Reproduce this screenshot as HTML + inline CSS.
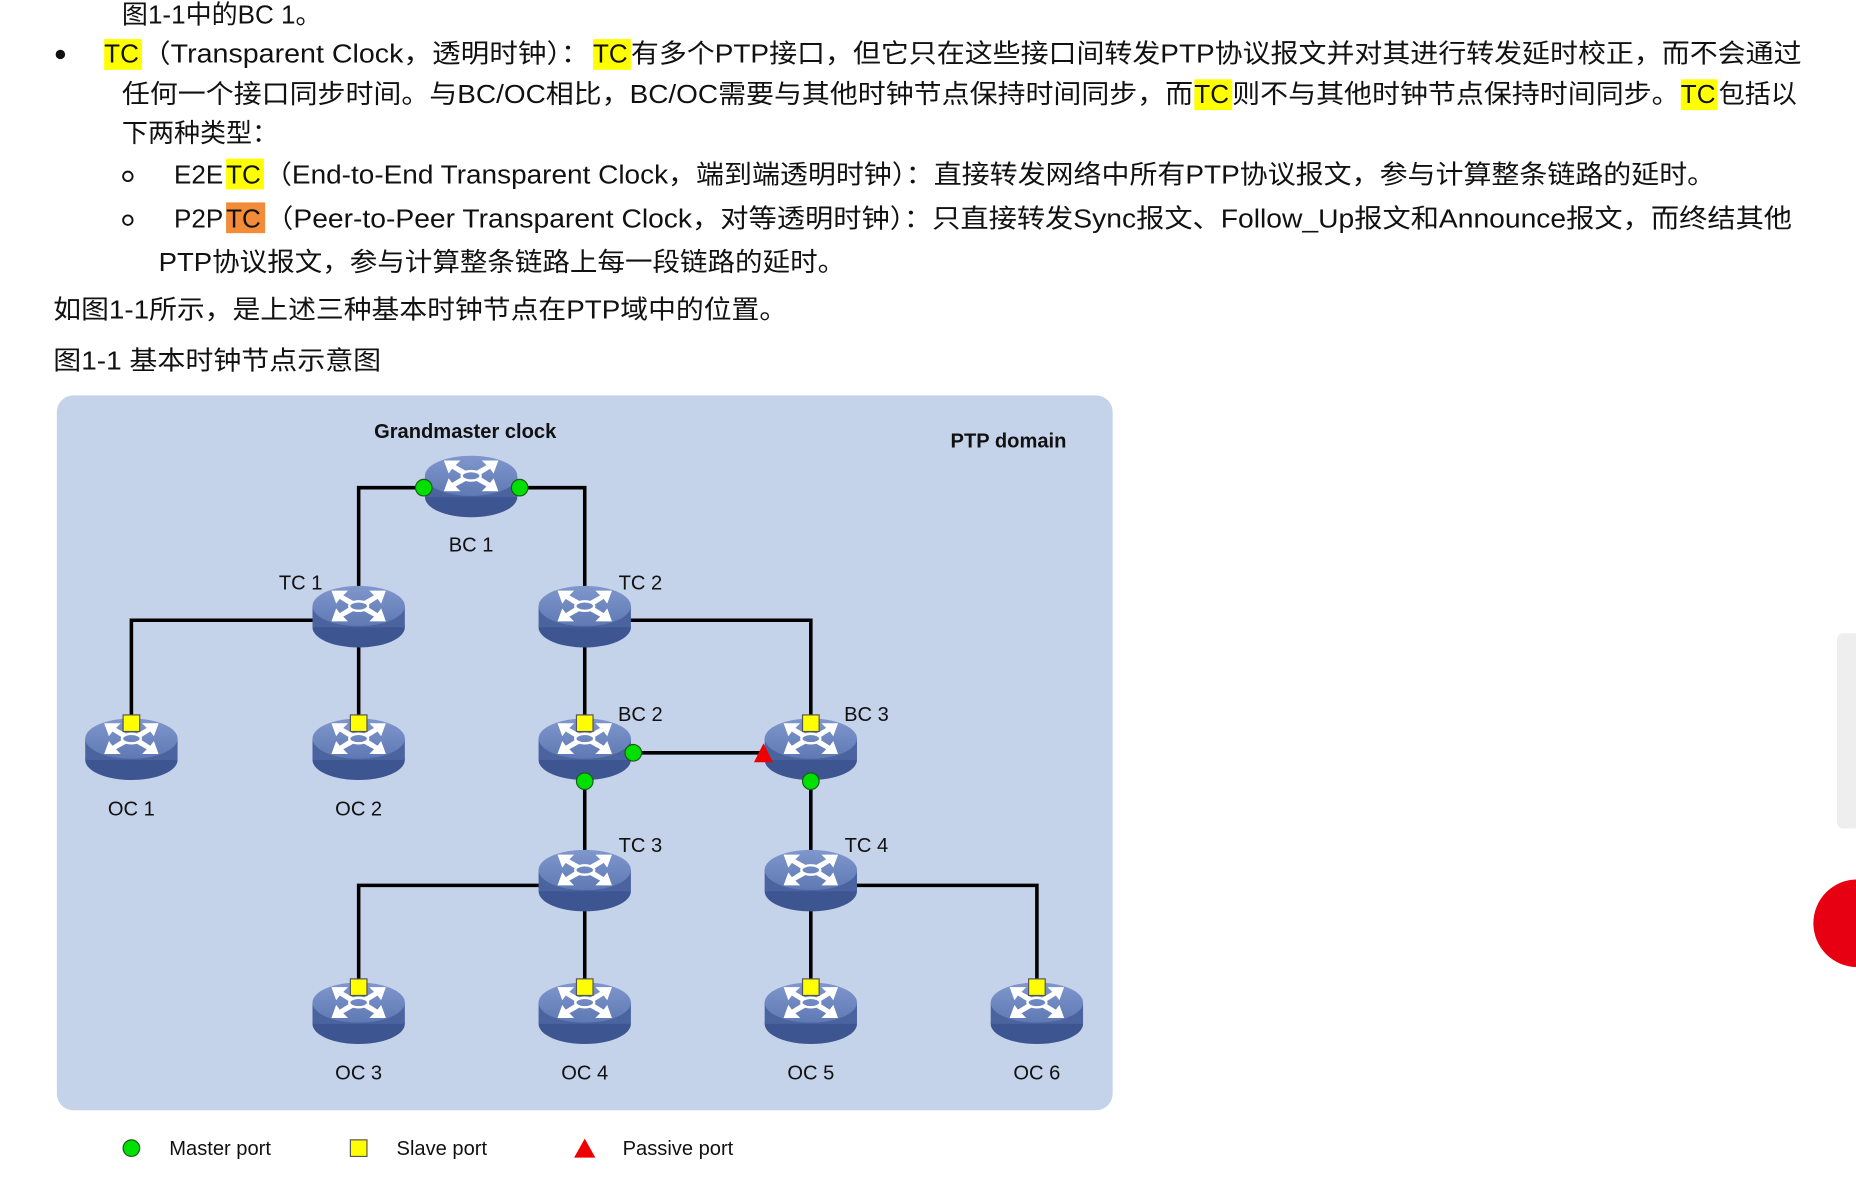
<!DOCTYPE html>
<html><head><meta charset="utf-8">
<style>
html,body{margin:0;padding:0;background:#fff;width:1856px;height:1182px;overflow:hidden}
svg{display:block}
.t{font-family:"Liberation Sans","Noto Sans CJK SC",sans-serif;font-size:22px;fill:#111}
.d{font-family:"Liberation Sans","Noto Sans CJK SC",sans-serif;font-size:17px;fill:#111}
.b{font-weight:bold}
</style></head><body>
<svg width="1856" height="1182" viewBox="0 0 1568 998.6" xmlns="http://www.w3.org/2000/svg">
<defs>
<linearGradient id="tg" x1="0" y1="0" x2="0" y2="1"><stop offset="0" stop-color="#7f97cc"/><stop offset="1" stop-color="#5f79b4"/></linearGradient>
<g id="r">
<ellipse cx="0" cy="10" rx="39" ry="17" fill="#3d5591"/>
<rect x="-39" y="-8" width="78" height="18" fill="#4b64a0"/>
<ellipse cx="0" cy="-8" rx="39" ry="17" fill="url(#tg)"/>
<g fill="#fff">
<polygon points="-23,-21 -9,-21 -13,-17 -4,-12 -8,-9 -16,-14 -19,-10"/>
<polygon points="23,-21 9,-21 13,-17 4,-12 8,-9 16,-14 19,-10"/>
<polygon points="-23,5 -9,5 -13,1 -4,-4 -8,-7 -16,-2 -19,-6"/>
<polygon points="23,5 9,5 13,1 4,-4 8,-7 16,-2 19,-6"/>
<ellipse cx="0" cy="-8" rx="8" ry="4" fill="none" stroke="#fff" stroke-width="2"/>
</g>
</g>
</defs>
<!-- text -->
<text class="t" x="103" y="20">图1-1中的BC 1。</text>
<circle cx="51" cy="46" r="4" fill="#111"/>
<rect x="88" y="33" width="32" height="26" fill="#ffff00"/>
<rect x="501" y="33" width="32" height="26" fill="#ffff00"/>
<text class="t" x="88" y="53">TC</text>
<text class="t" x="120" y="53" textLength="378" lengthAdjust="spacingAndGlyphs">（Transparent Clock，透明时钟）：</text>
<text class="t" x="501" y="53">TC</text>
<text class="t" x="533" y="53" textLength="989" lengthAdjust="spacingAndGlyphs">有多个PTP接口，但它只在这些接口间转发PTP协议报文并对其进行转发延时校正，而不会通过</text>
<rect x="1009" y="67" width="32" height="26" fill="#ffff00"/>
<rect x="1420" y="67" width="31" height="26" fill="#ffff00"/>
<text class="t" x="103" y="87" textLength="905" lengthAdjust="spacingAndGlyphs">任何一个接口同步时间。与BC/OC相比，BC/OC需要与其他时钟节点保持时间同步，而</text>
<text class="t" x="1009" y="87">TC</text>
<text class="t" x="1041" y="87" textLength="378" lengthAdjust="spacingAndGlyphs">则不与其他时钟节点保持时间同步。</text>
<text class="t" x="1420" y="87">TC</text>
<text class="t" x="1452" y="87">包括以</text>
<text class="t" x="103" y="120">下两种类型：</text>
<circle cx="108" cy="149" r="4" fill="none" stroke="#111" stroke-width="1.6"/>
<rect x="191" y="134" width="32" height="26" fill="#ffff00"/>
<text class="t" x="147" y="155">E2E</text>
<text class="t" x="191" y="155">TC</text>
<text class="t" x="223" y="155" textLength="1226" lengthAdjust="spacingAndGlyphs">（End-to-End Transparent Clock，端到端透明时钟）：直接转发网络中所有PTP协议报文，参与计算整条链路的延时。</text>
<circle cx="108" cy="186" r="4" fill="none" stroke="#111" stroke-width="1.6"/>
<rect x="191" y="171" width="33" height="26" fill="#f28c38"/>
<text class="t" x="147" y="192">P2P</text>
<text class="t" x="191" y="192">TC</text>
<text class="t" x="224" y="192" textLength="1290" lengthAdjust="spacingAndGlyphs">（Peer-to-Peer Transparent Clock，对等透明时钟）：只直接转发Sync报文、Follow_Up报文和Announce报文，而终结其他</text>
<text class="t" x="134" y="229" textLength="580" lengthAdjust="spacingAndGlyphs">PTP协议报文，参与计算整条链路上每一段链路的延时。</text>
<text class="t" x="45" y="269" textLength="620" lengthAdjust="spacingAndGlyphs">如图1-1所示，是上述三种基本时钟节点在PTP域中的位置。</text>
<text class="t" x="45" y="312" textLength="277" lengthAdjust="spacingAndGlyphs">图1-1 基本时钟节点示意图</text>
<!-- right side -->
<rect x="1552" y="535" width="30" height="165" rx="5" fill="#eeeeee"/>
<circle cx="1569" cy="780" r="37" fill="#e60012"/>
<!-- diagram -->
<rect x="48" y="334" width="892" height="604" rx="14" fill="#c4d2ea"/>
<text class="d b" x="393" y="370" text-anchor="middle">Grandmaster clock</text>
<text class="d b" x="852" y="378" text-anchor="middle">PTP domain</text>
<g stroke="#000" stroke-width="3" fill="none">
<polyline points="358,412 303,412 303,520"/>
<polyline points="439,412 494,412 494,520"/>
<polyline points="303,524 111,524 111,611"/>
<line x1="303" y1="520" x2="303" y2="611"/>
<polyline points="494,524 685,524 685,611"/>
<line x1="494" y1="520" x2="494" y2="611"/>
<line x1="535" y1="636" x2="645" y2="636"/>
<line x1="494" y1="660" x2="494" y2="743"/>
<line x1="685" y1="660" x2="685" y2="743"/>
<polyline points="494,748 303,748 303,834"/>
<line x1="494" y1="743" x2="494" y2="834"/>
<line x1="685" y1="743" x2="685" y2="834"/>
<polyline points="685,748 876,748 876,834"/>
</g>
<use href="#r" x="398" y="410"/>
<use href="#r" x="303" y="520"/>
<use href="#r" x="494" y="520"/>
<use href="#r" x="111" y="632"/>
<use href="#r" x="303" y="632"/>
<use href="#r" x="494" y="632"/>
<use href="#r" x="685" y="632"/>
<use href="#r" x="494" y="743"/>
<use href="#r" x="685" y="743"/>
<use href="#r" x="303" y="855"/>
<use href="#r" x="494" y="855"/>
<use href="#r" x="685" y="855"/>
<use href="#r" x="876" y="855"/>
<g fill="#00e000" stroke="#1a5a1a" stroke-width="1">
<circle cx="358" cy="412" r="7"/><circle cx="439" cy="412" r="7"/>
<circle cx="535" cy="636" r="7"/><circle cx="494" cy="660" r="7"/><circle cx="685" cy="660" r="7"/>
<circle cx="111" cy="970" r="7"/>
</g>
<g fill="#ffff00" stroke="#555" stroke-width="1">
<rect x="104" y="604" width="14" height="14"/><rect x="296" y="604" width="14" height="14"/>
<rect x="487" y="604" width="14" height="14"/><rect x="678" y="604" width="14" height="14"/>
<rect x="296" y="827" width="14" height="14"/><rect x="487" y="827" width="14" height="14"/>
<rect x="678" y="827" width="14" height="14"/><rect x="869" y="827" width="14" height="14"/>
<rect x="296" y="963" width="14" height="14"/>
</g>
<g fill="#ee0000">
<polygon points="645,628 637,644 653,644"/>
<polygon points="494,962 485,978 503,978"/>
</g>
<g class="d">
<text x="398" y="466" text-anchor="middle">BC 1</text>
<text x="254" y="498" text-anchor="middle">TC 1</text>
<text x="541" y="498" text-anchor="middle">TC 2</text>
<text x="541" y="609" text-anchor="middle">BC 2</text>
<text x="732" y="609" text-anchor="middle">BC 3</text>
<text x="541" y="720" text-anchor="middle">TC 3</text>
<text x="732" y="720" text-anchor="middle">TC 4</text>
<text x="111" y="689" text-anchor="middle">OC 1</text>
<text x="303" y="689" text-anchor="middle">OC 2</text>
<text x="303" y="912" text-anchor="middle">OC 3</text>
<text x="494" y="912" text-anchor="middle">OC 4</text>
<text x="685" y="912" text-anchor="middle">OC 5</text>
<text x="876" y="912" text-anchor="middle">OC 6</text>
<text x="143" y="976">Master port</text>
<text x="335" y="976">Slave port</text>
<text x="526" y="976">Passive port</text>
</g>
</svg>
</body></html>
